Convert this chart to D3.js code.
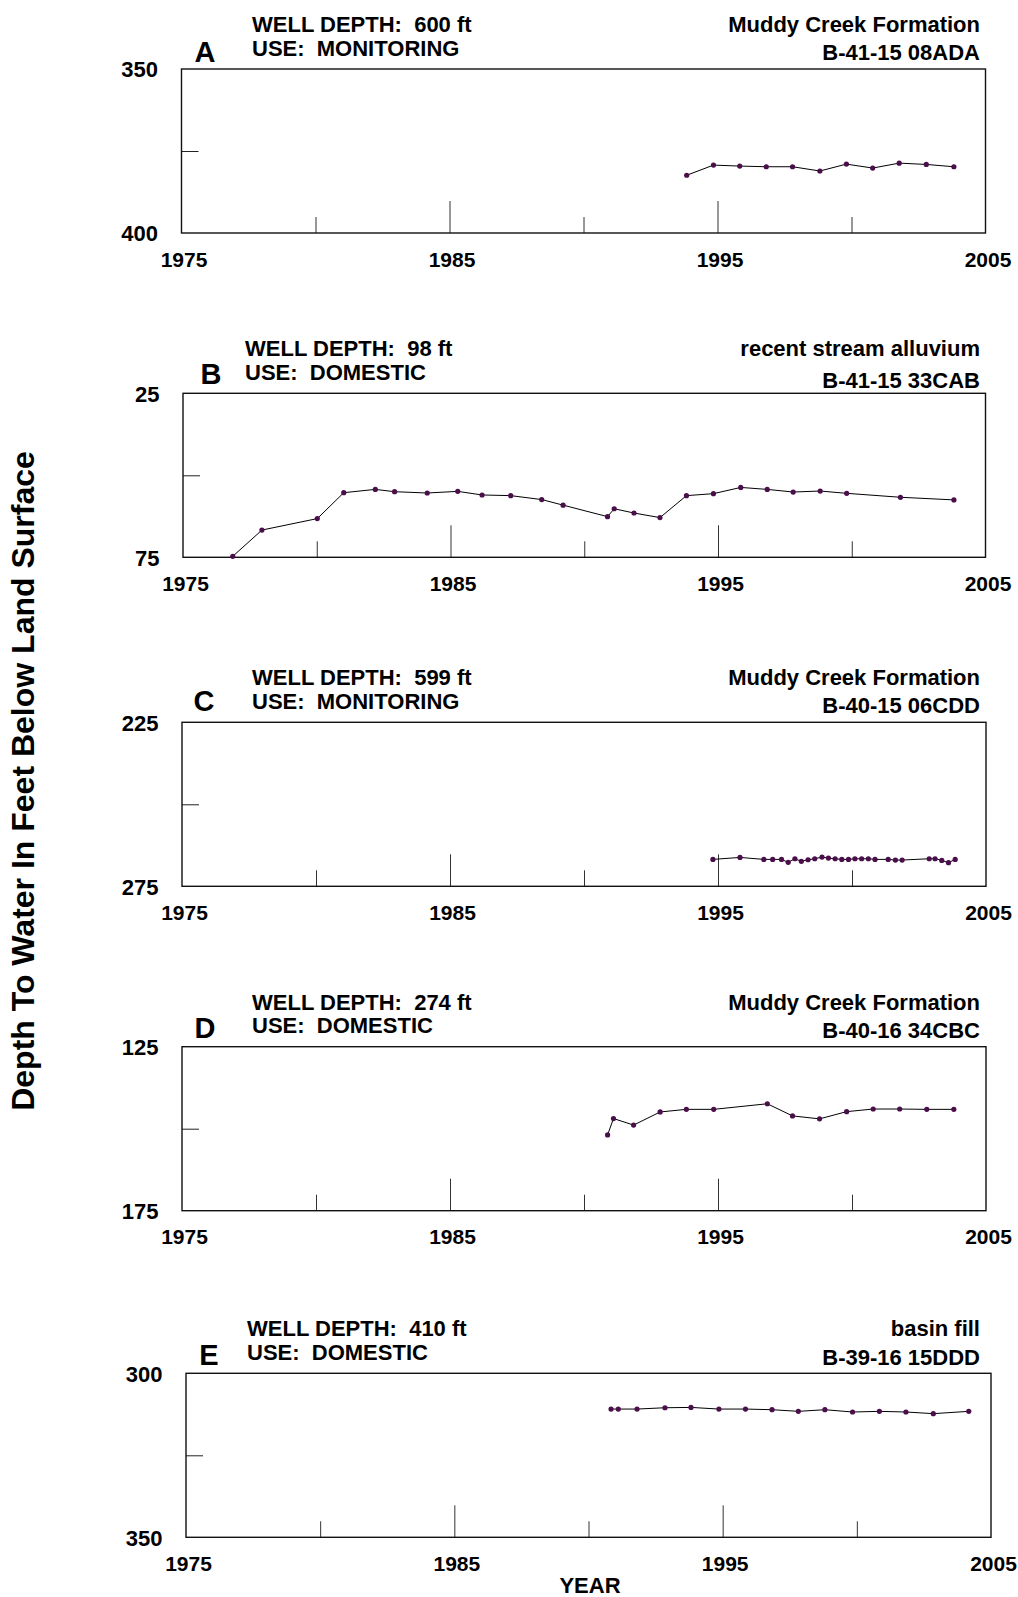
<!DOCTYPE html>
<html>
<head>
<meta charset="utf-8">
<script src="https://cdn.jsdelivr.net/npm/d3@7"></script>
<style>
  body { margin: 0; background: #fff; }
  svg text { font-family: "Liberation Sans", Arial, Helvetica, sans-serif; font-weight: bold; fill: #000; }
</style>
</head>
<body>
<svg width="1018" height="1597"></svg>
<script>
// hydrograph data (decimal year, depth to water in ft)
var yearsA = [1993.85, 1994.85, 1995.83, 1996.82, 1997.8, 1998.82, 1999.81, 2000.79, 2001.78, 2002.79, 2003.82];
var depthA = [382.4, 379.3, 379.6, 379.8, 379.8, 381.1, 379.0, 380.2, 378.7, 379.1, 379.8];

var yearsB = [1976.86, 1977.95, 1980.02, 1981.01, 1982.19, 1982.91, 1984.13, 1985.27, 1986.18, 1987.25,
              1988.41, 1989.21, 1990.87, 1991.12, 1991.86, 1992.83, 1993.82, 1994.83, 1995.85, 1996.84,
              1997.81, 1998.82, 1999.81, 2001.82, 2003.82];
var depthB = [74.7, 66.7, 63.2, 55.3, 54.3, 55.0, 55.4, 54.9, 56.0, 56.2,
              57.4, 59.1, 62.6, 60.2, 61.5, 62.9, 56.2, 55.6, 53.7, 54.3,
              55.1, 54.8, 55.5, 56.7, 57.5];

var yearsC = [1994.81, 1995.82, 1996.71, 1997.04, 1997.37, 1997.62, 1997.87, 1998.11, 1998.36, 1998.61,
              1998.88, 1999.12, 1999.37, 1999.62, 1999.87, 2000.11, 2000.36, 2000.61, 2000.86, 2001.35,
              2001.62, 2001.87, 2002.88, 2003.1, 2003.35, 2003.6, 2003.85];
var depthC = [266.8, 266.2, 266.8, 266.8, 266.8, 267.7, 266.6, 267.4, 266.9, 266.6,
              266.1, 266.4, 266.6, 266.8, 266.8, 266.6, 266.6, 266.6, 266.8, 266.8,
              267.0, 267.0, 266.6, 266.6, 267.1, 267.8, 266.8];

var yearsD = [1990.88, 1991.1, 1991.85, 1992.84, 1993.82, 1994.84, 1996.84, 1997.78, 1998.79, 1999.8,
              2000.79, 2001.78, 2002.79, 2003.8];
var depthD = [151.9, 146.9, 148.9, 144.9, 144.1, 144.1, 142.4, 146.1, 147.0, 144.8,
              144.0, 144.0, 144.1, 144.1];

var yearsE = [1990.84, 1991.11, 1991.81, 1992.85, 1993.82, 1994.86, 1995.85, 1996.84, 1997.82, 1998.81,
              1999.84, 2000.84, 2001.83, 2002.85, 2004.17];
var depthE = [310.9, 310.9, 310.9, 310.5, 310.4, 310.9, 310.9, 311.1, 311.6, 311.1,
              311.8, 311.6, 311.8, 312.3, 311.6];

var letters = ["A", "B", "C", "D", "E"];
var wellDepths = ["600 ft", "98 ft", "599 ft", "274 ft", "410 ft"];
var uses = ["MONITORING", "DOMESTIC", "MONITORING", "DOMESTIC", "DOMESTIC"];
var aquifers = ["Muddy Creek Formation", "recent stream alluvium", "Muddy Creek Formation",
                "Muddy Creek Formation", "basin fill"];
var siteIds = ["B-41-15 08ADA", "B-41-15 33CAB", "B-40-15 06CDD", "B-40-16 34CBC", "B-39-16 15DDD"];
var depthDomains = [[350, 400], [25, 75], [225, 275], [125, 175], [300, 350]];
var yearLabels = [1975, 1985, 1995, 2005];
var yearMajor = [1985, 1995];
var yearMinor = [1980, 1990, 2000];

var seriesYears = [yearsA, yearsB, yearsC, yearsD, yearsE];
var seriesDepth = [depthA, depthB, depthC, depthD, depthE];

// where each panel sits on the page
var layout = [
  {top: 69,     left: 181.5, right: 985.5, letterX: 205, letterDy: -7.5, textX: 252, idDy: -9},
  {top: 393.3,  left: 183,   right: 985.5, letterX: 211, letterDy: -9,   textX: 245, idDy: -5},
  {top: 722.3,  left: 182,   right: 986,   letterX: 204, letterDy: -11,  textX: 252, idDy: -9},
  {top: 1046.7, left: 182,   right: 986,   letterX: 205, letterDy: -8.4, textX: 252, idDy: -9},
  {top: 1373.3, left: 186,   right: 991,   letterX: 209, letterDy: -8.3, textX: 247, idDy: -8}
];
var plotHeight = 164;
var pointColor = "#4a0f4a";

var svg = d3.select("svg");

layout.forEach(function(p, i) {
  var bottom = p.top + plotHeight;
  var x = d3.scaleLinear().domain([1975, 2005]).range([p.left, p.right]);
  var y = d3.scaleLinear().domain(depthDomains[i]).range([p.top, bottom]);
  var g = svg.append("g").attr("class", "panel");

  // inner tick marks along the bottom
  g.append("g")
      .attr("transform", "translate(0," + bottom + ")")
      .call(d3.axisTop(x).tickValues(yearMinor).tickSize(16).tickFormat(""))
      .call(function(a) { a.select(".domain").remove(); })
      .selectAll("line").attr("stroke", "#333");
  g.append("g")
      .attr("transform", "translate(0," + bottom + ")")
      .call(d3.axisTop(x).tickValues(yearMajor).tickSize(32).tickFormat(""))
      .call(function(a) { a.select(".domain").remove(); })
      .selectAll("line").attr("stroke", "#333");

  // year labels
  var xl = g.append("g")
      .attr("transform", "translate(2," + bottom + ")")
      .call(d3.axisBottom(x).tickValues(yearLabels).tickSize(0).tickFormat(d3.format("d")));
  xl.select(".domain").remove();
  xl.selectAll("text")
      .attr("y", 33.7).attr("dy", null)
      .style("font-size", "21px")
      .style("font-family", "'Liberation Sans', Arial, sans-serif")
      .style("font-weight", "bold");

  // mid tick on the depth axis
  var mid = (depthDomains[i][0] + depthDomains[i][1]) / 2;
  g.append("g")
      .attr("transform", "translate(" + p.left + ",0)")
      .call(d3.axisRight(y).tickValues([mid]).tickSize(17).tickFormat(""))
      .call(function(a) { a.select(".domain").remove(); })
      .selectAll("line").attr("stroke", "#222");

  // depth labels
  var yl = g.append("g")
      .attr("transform", "translate(" + p.left + ",0)")
      .call(d3.axisLeft(y).tickValues(depthDomains[i]).tickSize(0).tickPadding(23.5));
  yl.select(".domain").remove();
  yl.selectAll("text")
      .attr("dy", "0.36em")
      .style("font-size", "22px")
      .style("font-family", "'Liberation Sans', Arial, sans-serif")
      .style("font-weight", "bold");

  // frame
  g.append("rect")
      .attr("x", p.left).attr("y", p.top)
      .attr("width", p.right - p.left).attr("height", plotHeight)
      .attr("fill", "none").attr("stroke", "#111").attr("stroke-width", 1.4);

  // series
  var pts = seriesYears[i].map(function(yr, k) { return [yr, seriesDepth[i][k]]; });
  var line = d3.line()
      .x(function(d) { return x(d[0]); })
      .y(function(d) { return y(d[1]); });
  g.append("path")
      .datum(pts)
      .attr("d", line)
      .attr("fill", "none").attr("stroke", "#000").attr("stroke-width", 1);
  g.selectAll("circle")
      .data(pts)
      .enter().append("circle")
      .attr("cx", function(d) { return x(d[0]); })
      .attr("cy", function(d) { return y(d[1]); })
      .attr("r", 2.6)
      .attr("fill", pointColor);

  // headers
  g.append("text")
      .attr("x", p.letterX).attr("y", p.top + p.letterDy)
      .attr("text-anchor", "middle")
      .style("font-size", "29px")
      .text(letters[i]);
  g.append("text")
      .attr("x", p.textX).attr("y", p.top - 37)
      .style("font-size", "22px")
      .style("white-space", "pre")
      .text("WELL DEPTH:  " + wellDepths[i]);
  g.append("text")
      .attr("x", p.textX).attr("y", p.top - 13.5)
      .style("font-size", "22px")
      .style("white-space", "pre")
      .text("USE:  " + uses[i]);
  g.append("text")
      .attr("x", 980).attr("y", p.top - 37)
      .attr("text-anchor", "end")
      .style("font-size", "22px")
      .text(aquifers[i]);
  g.append("text")
      .attr("x", 980).attr("y", p.top + p.idDy)
      .attr("text-anchor", "end")
      .style("font-size", "22px")
      .text(siteIds[i]);
});

// axis titles
svg.append("text")
    .attr("transform", "translate(34,781) rotate(-90)")
    .attr("text-anchor", "middle")
    .style("font-size", "32px")
    .text("Depth To Water In Feet Below Land Surface");

svg.append("text")
    .attr("x", 590).attr("y", 1593)
    .attr("text-anchor", "middle")
    .style("font-size", "22px")
    .text("YEAR");
</script>
</body>
</html>
